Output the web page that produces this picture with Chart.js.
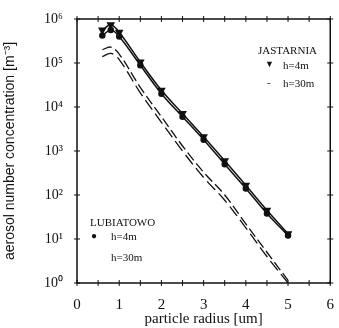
<!DOCTYPE html>
<html>

<head>
    <title>Aerosol number concentration</title>
    <style type="text/css">
        body {
            margin: 0;
            background: #ffffff;
        }

        #wrap {
            position: relative;
            width: 339px;
            height: 328px;
        }

        .note {
            position: absolute;
            font-family: 'Liberation Serif', serif;
            font-size: 11px;
            line-height: 11px;
            color: #111;
            white-space: nowrap;
        }
    </style>
</head>

<body>
    <div id="wrap">
        <canvas id="chartContainer" width="339" height="328"></canvas>
        <div class="note" style="left:258px;top:45px">JASTARNIA</div>
        <div class="note" style="left:265px;top:59px;font-size:9px">▼</div>
        <div class="note" style="left:283px;top:60px">h=4m</div>
        <div class="note" style="left:267px;top:77px">-</div>
        <div class="note" style="left:283px;top:78px">h=30m</div>
        <div class="note" style="left:90px;top:217px">LUBIATOWO</div>
        <div class="note" style="left:91px;top:230px;font-size:10px">●</div>
        <div class="note" style="left:111px;top:231px">h=4m</div>
        <div class="note" style="left:111px;top:252px">h=30m</div>
    </div>
    <script src="https://cdn.jsdelivr.net/npm/chart.js@4.4.1/dist/chart.umd.min.js"></script>
    <script>
        // particle radius [um]
        var radius = [0.6, 0.8, 1.0, 1.5, 2.0, 2.5, 3.0, 3.5, 4.0, 4.5, 5.0];

        // concentrations [m^-3]
        var jastarnia4 = [5.6e5, 7.4e5, 5.0e5, 1.05e5, 2.4e4, 7.1e3, 2.1e3, 600, 166, 45, 13.2];
        var lubiatowo4 = [4.2e5, 5.6e5, 4.0e5, 8.9e4, 2.0e4, 6.0e3, 1.8e3, 500, 141, 38, 12];
        var jastarnia30 = [2.0e5, 2.3e5, 1.6e5, 2.8e4, 6.0e3, 1.3e3, 330, 100, 22, 5, 1.15];
        var lubiatowo30 = [1.4e5, 1.66e5, 1.2e5, 2.1e4, 4.5e3, 1.0e3, 250, 76, 18, 4, 1.0];

        var xTicks = [0, 1, 2, 3, 4, 5, 6];
        var decadeLabels = { 0: '10⁰', 1: '10¹', 2: '10²', 3: '10³', 4: '10⁴', 5: '10⁵', 6: '10⁶' };

        function toPoints(values) {
            return values.map((v, i) => ({ x: radius[i], y: v }));
        }

        // frame with small crossing ticks on all four sides
        var framePlugin = {
            id: 'frame',
            afterDraw(chart) {
                var ctx = chart.ctx;
                var a = chart.chartArea;
                var xs = chart.scales.x;
                var ys = chart.scales.y;
                ctx.save();
                ctx.strokeStyle = '#111';
                ctx.lineWidth = 1.5;
                ctx.strokeRect(a.left, a.top, a.right - a.left, a.bottom - a.top);
                ctx.lineWidth = 1;
                ctx.beginPath();
                for (var t = 0; t <= 6; t += 0.5) {
                    var px = xs.getPixelForValue(t);
                    ctx.moveTo(px, a.bottom - 3);
                    ctx.lineTo(px, a.bottom + 3);
                    ctx.moveTo(px, a.top - 3);
                    ctx.lineTo(px, a.top + 3);
                }
                for (var d = 0; d <= 6; d++) {
                    var py = ys.getPixelForValue(Math.pow(10, d));
                    ctx.moveTo(a.left - 3, py);
                    ctx.lineTo(a.left + 3, py);
                    ctx.moveTo(a.right - 3, py);
                    ctx.lineTo(a.right + 3, py);
                }
                ctx.stroke();
                ctx.restore();
            }
        };

        function createChart() {
            var ctx = document.getElementById('chartContainer').getContext('2d');
            new Chart(ctx, {
                type: 'line',
                data: {
                    datasets: [
                        {
                            label: 'Jastarnia h=4m',
                            data: toPoints(jastarnia4),
                            borderColor: '#111',
                            backgroundColor: '#111',
                            borderWidth: 1.5,
                            tension: 0.35,
                            pointStyle: 'triangle',
                            rotation: 180,
                            pointRadius: 3.5
                        },
                        {
                            label: 'Lubiatowo h=4m',
                            data: toPoints(lubiatowo4),
                            borderColor: '#111',
                            backgroundColor: '#111',
                            borderWidth: 1.5,
                            tension: 0.35,
                            pointStyle: 'circle',
                            pointRadius: 2.5
                        },
                        {
                            label: 'Jastarnia h=30m',
                            data: toPoints(jastarnia30),
                            borderColor: '#111',
                            borderWidth: 1.3,
                            tension: 0.35,
                            borderDash: [10, 4],
                            pointRadius: 0
                        },
                        {
                            label: 'Lubiatowo h=30m',
                            data: toPoints(lubiatowo30),
                            borderColor: '#111',
                            borderWidth: 1.3,
                            tension: 0.35,
                            borderDash: [12, 5],
                            pointRadius: 0
                        }
                    ]
                },
                options: {
                    responsive: false,
                    animation: false,
                    layout: {
                        padding: { top: 19, right: 2, left: 0, bottom: 0 }
                    },
                    plugins: {
                        legend: { display: false },
                        tooltip: { enabled: false }
                    },
                    scales: {
                        x: {
                            type: 'linear',
                            min: 0,
                            max: 6,
                            afterBuildTicks: s => { s.ticks = xTicks.map(v => ({ value: v })); },
                            ticks: {
                                color: '#111',
                                padding: 5,
                                font: { family: 'Liberation Serif', size: 15 }
                            },
                            grid: { display: false },
                            border: { display: false },
                            title: {
                                display: true,
                                text: 'particle radius [um]',
                                color: '#111',
                                padding: 0,
                                font: { family: 'Liberation Serif', size: 15 }
                            },
                            afterFit: s => { s.height = 45; }
                        },
                        y: {
                            type: 'logarithmic',
                            min: 1,
                            max: 1e6,
                            afterBuildTicks: s => {
                                s.ticks = Object.keys(decadeLabels).map(k => ({ value: Math.pow(10, +k) }));
                            },
                            ticks: {
                                color: '#111',
                                padding: 6,
                                font: { family: 'Liberation Serif', size: 14 },
                                callback: v => decadeLabels[Math.round(Math.log10(v))]
                            },
                            grid: { display: false },
                            border: { display: false },
                            title: {
                                display: true,
                                text: 'aerosol number concentration [m⁻³]',
                                color: '#111',
                                padding: 2,
                                font: { family: 'Liberation Sans', size: 14 }
                            },
                            afterFit: s => { s.width = 77; }
                        }
                    }
                },
                plugins: [framePlugin]
            });
        }

        createChart();
    </script>
</body>

</html>
